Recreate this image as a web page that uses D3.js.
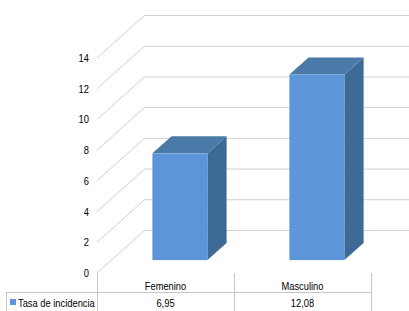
<!DOCTYPE html>
<html>
<head>
<meta charset="utf-8">
<script src="https://cdn.jsdelivr.net/npm/d3@7"></script>
<style>
  html, body { margin: 0; padding: 0; background: #ffffff; }
  text { font-family: "Liberation Sans", Arial, sans-serif; font-size: 11px; fill: #000; }
</style>
</head>
<body>
<div id="chart"></div>
<script>
const categories = ["Femenino", "Masculino"];
const values = [6.95, 12.08];
const valueLabels = ["6,95", "12,08"];
const seriesName = "Tasa de incidencia";
const yTicks = [0, 2, 4, 6, 8, 10, 12, 14];

const W = 409, H = 311;
const depth = {dx: 48, dy: -43};       // full depth of the 3D box
const barDepth = [0.3, 0.7];           // bar sits between these fractions of the depth
const gridColor = "#d0d0d0";
const squeeze = 0.85;                  // narrow look of the original font

const svg = d3.select("#chart").append("svg")
  .attr("width", W)
  .attr("height", H);

const x = d3.scaleBand().domain(categories).range([97, 371]);
const y = d3.scaleLinear().domain([0, 14]).range([273, 58]);
const barW = 55;

// condensed text at (px, py)
function label(g, px, py, str, anchor) {
  return g.append("text")
    .attr("transform", `translate(${px},${py}) scale(${squeeze},1)`)
    .attr("text-anchor", anchor || "start")
    .text(str);
}

// grid: diagonal on the side wall + horizontal line on the back wall
const grid = svg.append("g");
yTicks.forEach(t => {
  grid.append("line")
    .attr("x1", x.range()[0]).attr("y1", y(t))
    .attr("x2", x.range()[0] + depth.dx).attr("y2", y(t) + depth.dy)
    .attr("stroke", gridColor).attr("stroke-width", 1);
  grid.append("line")
    .attr("x1", x.range()[0] + depth.dx).attr("y1", y(t) + depth.dy + 0.5)
    .attr("x2", W).attr("y2", y(t) + depth.dy + 0.5)
    .attr("stroke", gridColor).attr("stroke-width", 1);
});

// tick labels
const ticks = svg.append("g");
yTicks.forEach(t => label(ticks, 89, y(t) + 4, t, "end"));

// bars
const f0 = {dx: depth.dx * barDepth[0], dy: depth.dy * barDepth[0]};
const f1 = {dx: depth.dx * barDepth[1], dy: depth.dy * barDepth[1]};
const bars = svg.append("g");
categories.forEach((c, i) => {
  const xl = x(c) + (x.bandwidth() - barW) / 2 + f0.dx;
  const xr = xl + barW;
  const yt = y(values[i]) + f0.dy;
  const yb = y(0) + f0.dy;
  const ddx = f1.dx - f0.dx, ddy = f1.dy - f0.dy;
  // side face
  bars.append("path")
    .attr("d", `M${xr},${yt} L${xr + ddx},${yt + ddy} L${xr + ddx},${yb + ddy} L${xr},${yb} Z`)
    .attr("fill", "#3e6a96");
  // top face
  bars.append("path")
    .attr("d", `M${xl},${yt} L${xl + ddx},${yt + ddy} L${xr + ddx},${yt + ddy} L${xr},${yt} Z`)
    .attr("fill", "#4a7ba8");
  // front face
  bars.append("rect")
    .attr("x", xl).attr("y", yt)
    .attr("width", barW).attr("height", yb - yt)
    .attr("fill", "#5c95d8");
});

// data table
const tbl = svg.append("g");
const tableLine = "#c8c8c8";
tbl.append("line").attr("x1", 6).attr("x2", 371).attr("y1", 292.5).attr("y2", 292.5)
  .attr("stroke", tableLine);
tbl.append("line").attr("x1", 6.5).attr("x2", 6.5).attr("y1", 292).attr("y2", H)
  .attr("stroke", tableLine);
[x.range()[0], ...categories.map(c => x(c) + x.bandwidth())].forEach(v => {
  tbl.append("line").attr("x1", v + 0.5).attr("x2", v + 0.5).attr("y1", 273).attr("y2", H)
    .attr("stroke", tableLine);
});

categories.forEach((c, i) => {
  const cx = x(c) + x.bandwidth() / 2;
  label(tbl, cx, 290, c, "middle");
  label(tbl, cx, 307, valueLabels[i], "middle");
});

tbl.append("rect")
  .attr("x", 10).attr("y", 299).attr("width", 6).attr("height", 6)
  .attr("fill", "#5c95d8");
label(tbl, 18, 307, seriesName);
</script>
</body>
</html>
